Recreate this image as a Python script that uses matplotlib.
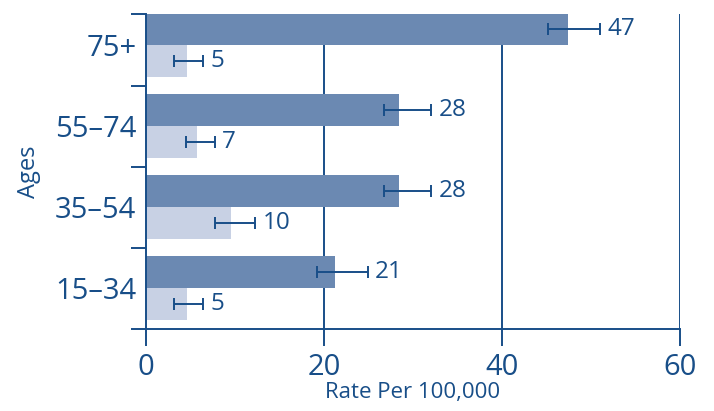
import matplotlib.pyplot as plt
import numpy as np

plt.rcParams['font.family'] = ['Open Sans', 'DejaVu Sans']

# data
ages = ["15\u201334", "35\u201354", "55\u201374", "75+"]
dark_vals = [21.3, 28.4, 28.4, 47.4]
dark_lo = [19.2, 26.8, 26.8, 45.2]
dark_hi = [24.9, 32.0, 32.0, 51.0]
dark_labels = ["21", "28", "28", "47"]
light_vals = [4.6, 9.6, 5.7, 4.6]
light_lo = [3.2, 7.8, 4.5, 3.2]
light_hi = [6.4, 12.3, 7.7, 6.4]
light_labels = ["5", "10", "7", "5"]
xticks = [0, 20, 40, 60]

navy = '#184e88'
dark_col = '#6b89b2'
light_col = '#c8d1e4'

fig = plt.figure(figsize=(7.14, 4.11), dpi=100)
ax = fig.add_axes([0.2045, 0.1995, 0.7475, 0.7665])

y = np.arange(len(ages))
h = 0.395

def draw(vals, lo, hi, labels, offset, col):
    vals = np.array(vals)
    err = [vals - np.array(lo), np.array(hi) - vals]
    pos = y + offset
    ax.barh(pos, vals, height=h, color=col, zorder=2)
    ax.errorbar(vals, pos, xerr=err, fmt='none', ecolor=navy,
                elinewidth=1.4, capsize=4.5, capthick=1.4, zorder=3)
    for p, x, t in zip(pos, hi, labels):
        ax.annotate(t, (x, p), xytext=(5.5, 0), textcoords='offset points',
                    va='center', ha='left', fontsize=17.5, color=navy)

draw(dark_vals, dark_lo, dark_hi, dark_labels, h / 2, dark_col)
draw(light_vals, light_lo, light_hi, light_labels, -h / 2, light_col)

ax.set_xlim(0, 60)
ax.set_ylim(-0.5, 3.385)

ax.set_xticks(xticks)
ax.set_xticklabels([str(v) for v in xticks], fontsize=21, color=navy)
ax.tick_params(axis='x', length=12, width=1.4, color=navy, pad=5)
for v in xticks[1:]:
    ax.axvline(v, color=navy, lw=1.4, zorder=1)

ax.set_yticks(y)
ax.set_yticklabels(ages, fontsize=21, color=navy)
ax.tick_params(axis='y', which='major', length=0, pad=7)
ax.set_yticks([-0.5, 0.5, 1.5, 2.5, 3.385], minor=True)
ax.tick_params(axis='y', which='minor', length=11, width=1.4, color=navy)

for s in ['top', 'right']:
    ax.spines[s].set_visible(False)
for s in ['left', 'bottom']:
    ax.spines[s].set_color(navy)
    ax.spines[s].set_linewidth(1.4)

ax.set_xlabel("Rate Per 100,000", fontsize=16, color=navy, labelpad=0)
ax.set_ylabel("Ages", fontsize=17, color=navy, labelpad=10)

fig.savefig('out.png', dpi=100)
